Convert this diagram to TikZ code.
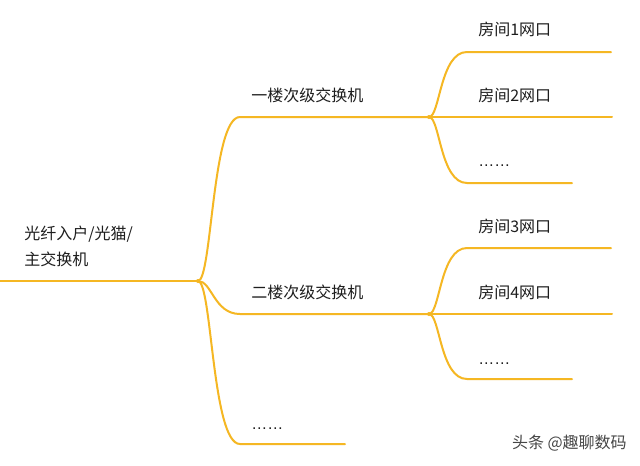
\documentclass[tikz,border=0pt]{standalone}
\usepackage{fontspec}
\setmainfont{Noto Sans CJK SC}
\newfontfamily\dotsfont{Liberation Sans}
\definecolor{branch}{RGB}{245,183,35}
\definecolor{ink}{RGB}{30,30,30}
\definecolor{mark}{RGB}{70,70,70}
\begin{document}
\begin{tikzpicture}[x=0.75pt,y=-0.75pt,
  link/.style={draw=branch,line width=1.5pt,line cap=round},
  lbl/.style={anchor=west,inner sep=0pt,text=ink,font=\fontsize{12}{19.5}\selectfont},
  dotlbl/.style={anchor=base west,inner sep=0pt,text=ink,font=\dotsfont\fontsize{12}{14}\selectfont},
  wm/.style={anchor=east,inner sep=0pt,text=mark,font=\fontsize{12}{14}\selectfont}]
\useasboundingbox[fill=white] (0,0) rectangle (640,465);
% coordinates
\coordinate (r0) at (0,281);
\coordinate (b0) at (198,281);
\coordinate (f1s) at (240,117);
\coordinate (f1) at (429,117);
\coordinate (f2s) at (240,314);
\coordinate (f2) at (429,314);
\coordinate (f3s) at (240,444);
\coordinate (f3e) at (345,444);
\coordinate (r1s) at (467,52);  \coordinate (r1e) at (611,52);
\coordinate (r2e) at (612,117);
\coordinate (r3s) at (467,183); \coordinate (r3e) at (572,183);
\coordinate (r4s) at (467,248); \coordinate (r4e) at (611,248);
\coordinate (r5e) at (612,314);
\coordinate (r6s) at (467,379); \coordinate (r6e) at (572,379);
% connectors
\draw[link] (r0) -- (b0);
\draw[link] (b0) .. controls (212,281) and (212,117) .. (f1s) -- (f1);
\draw[link] (b0) .. controls (212,281) and (214,314) .. (f2s) -- (f2);
\draw[link] (b0) .. controls (212,281) and (212,444) .. (f3s) -- (f3e);
\draw[link] (f1) .. controls (440,117) and (440,52) .. (r1s) -- (r1e);
\draw[link] (f1) -- (r2e);
\draw[link] (f1) .. controls (440,117) and (440,183) .. (r3s) -- (r3e);
\draw[link] (f2) .. controls (440,314) and (440,248) .. (r4s) -- (r4e);
\draw[link] (f2) -- (r5e);
\draw[link] (f2) .. controls (440,314) and (440,379) .. (r6s) -- (r6e);
\fill[branch] (b0) circle (2);
\fill[branch] (f1) circle (2);
\fill[branch] (f2) circle (2);
% labels
\node[lbl,align=left] (root) at (24,246) {光纤入户/光猫/\\主交换机};
\node[lbl] (n1) at (251,95) {一楼次级交换机};
\node[lbl] (n2) at (251,292) {二楼次级交换机};
\node[dotlbl] (n3) at (251,429) {……};
\node[lbl] (p1) at (478,29) {房间1网口};
\node[lbl] (p2) at (478,95) {房间2网口};
\node[dotlbl] (p3) at (478,166) {……};
\node[lbl] (p4) at (478,226) {房间3网口};
\node[lbl] (p5) at (478,292) {房间4网口};
\node[dotlbl] (p6) at (478,364) {……};
\node[wm] (wm) at (627,443) {头条 @趣聊数码};
\end{tikzpicture}
\end{document}
